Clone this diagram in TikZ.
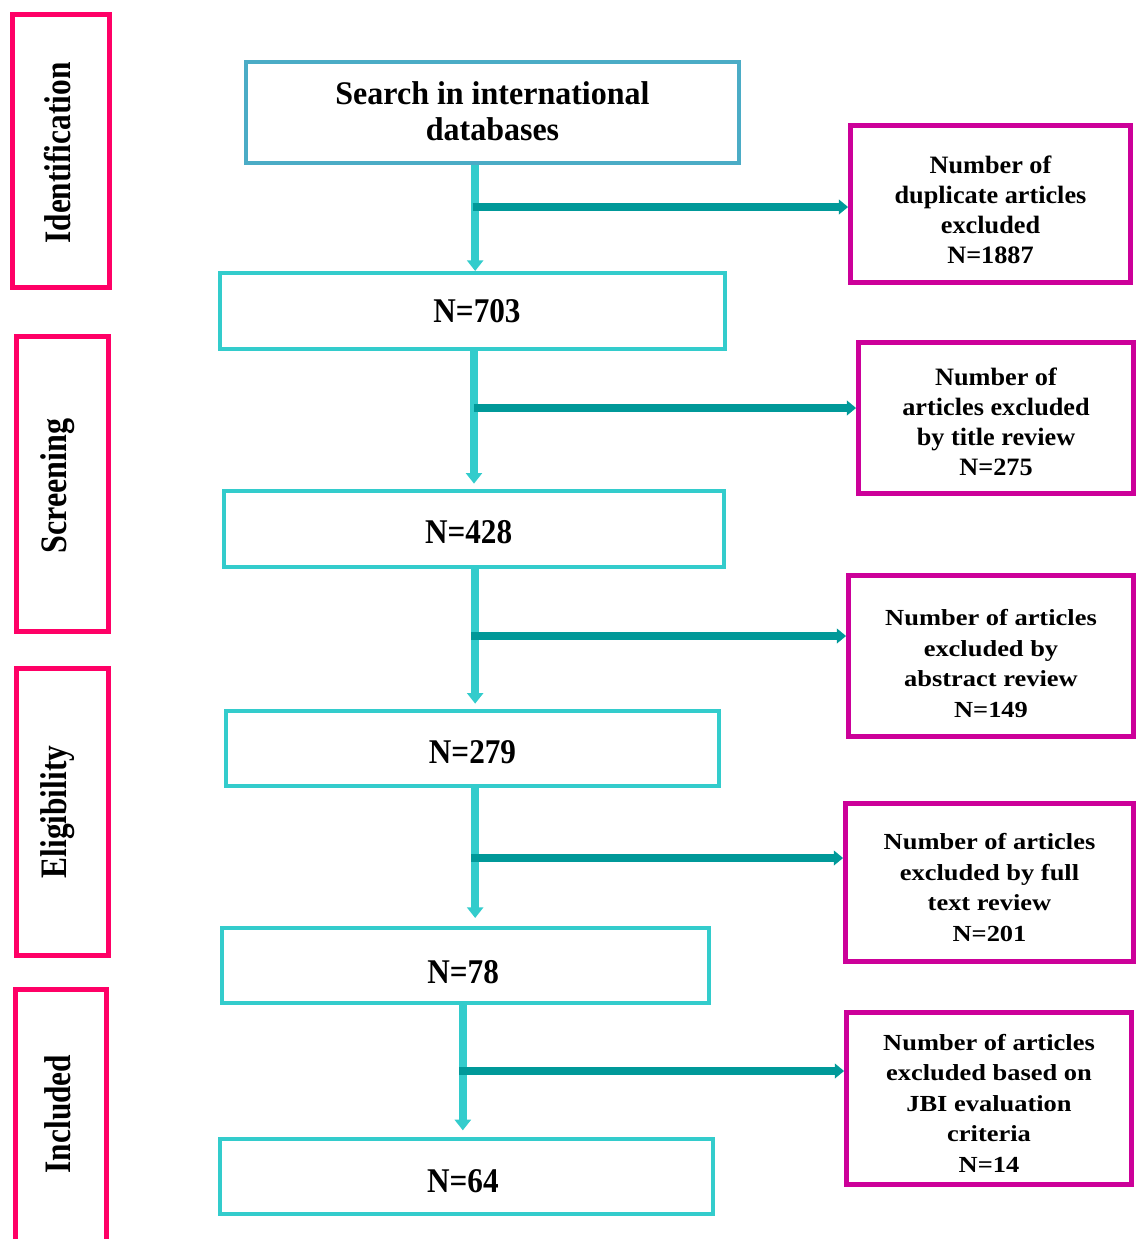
\documentclass[tikz,border=0pt]{standalone}
\usepackage{fontspec}
\setmainfont{Liberation Serif}
\usetikzlibrary{arrows.meta}
\definecolor{topblue}{HTML}{4BACC6}
\definecolor{cyanbox}{HTML}{33CCCC}
\definecolor{tealarrow}{HTML}{009999}
\definecolor{magbox}{HTML}{CC0099}
\definecolor{pinkbox}{HTML}{FF0066}
\newcommand\sx[3][5pt]{\raisebox{-#1}[\height][\depth]{\scalebox{#2}[1]{\begin{tabular}{@{}c@{}}#3\end{tabular}}}}
\begin{document}
\begin{tikzpicture}[x=0.75pt,y=-0.75pt,
  flowbox/.style={draw=cyanbox,line width=3pt,inner sep=0pt,font=\bfseries\fontsize{26}{30}\selectfont},
  exclbox/.style={draw=magbox,line width=3.6pt,inner sep=0pt},
  exclA/.style={font=\bfseries\fontsize{18.75}{22.5}\selectfont},
  exclB/.style={font=\bfseries\fontsize{17.25}{22.9}\selectfont},
  stagebox/.style={draw=pinkbox,line width=3.8pt,inner sep=0pt},
  stagelabel/.style={rotate=90,inner sep=0pt,font=\bfseries\fontsize{28}{30}\selectfont},
  varrow/.style={draw=cyanbox,line width=6pt,-{Triangle[width=12pt,length=8pt]}},
  harrow/.style={draw=tealarrow,line width=6pt,-{Triangle[width=11pt,length=7pt]}}
]
\useasboundingbox (0,0) rectangle (1137,1239);
\clip (0,0) rectangle (1137,1239);

% stage boxes
\node[stagebox,minimum width=72.75pt,minimum height=204.75pt] (s1) at (61,151) {};
\node[stagebox,minimum width=69pt,minimum height=221.25pt] (s2) at (62.5,484) {};
\node[stagebox,minimum width=69pt,minimum height=215.25pt] (s3) at (62.5,812) {};
\node[stagebox,minimum width=68.25pt,minimum height=202.9pt] (s4) at (61,1124.75) {};
\node[stagelabel] (l1) at (58,153) {\scalebox{0.84}[1]{Identification}};
\node[stagelabel] (l2) at (58,486) {\scalebox{0.86}[1]{Screening}};
\node[stagelabel] (l3) at (58,812) {\scalebox{0.84}[1]{Eligibility}};
\node[stagelabel] (l4) at (58,1114) {\scalebox{0.84}[1]{Included}};

% main flow
\node[flowbox,draw=topblue,minimum width=369.75pt,minimum height=75.75pt,
      font=\bfseries\fontsize{24.75}{27}\selectfont] (top) at (492.5,112.5)
      {\sx[2pt]{0.97}{Search in international\\databases}};
\node[flowbox,minimum width=378.75pt,minimum height=57pt] (n703) at (472.5,311) {\sx[2.5pt]{0.9}{\hspace*{7.5pt}N=703}};
\node[flowbox,minimum width=375pt,minimum height=57pt] (n428) at (474,529) {\sx[4.5pt]{0.9}{N=428\hspace*{9pt}}};
\node[flowbox,minimum width=369.75pt,minimum height=56.25pt] (n279) at (472.5,748.5) {\sx[5pt]{0.9}{N=279}};
\node[flowbox,minimum width=365.25pt,minimum height=56.25pt] (n78) at (465.5,965.5) {\sx[7.5pt]{0.9}{N=78\hspace*{4pt}}};
\node[flowbox,minimum width=369.75pt,minimum height=56.25pt] (n64) at (466.5,1176.5) {\sx[6pt]{0.9}{N=64\hspace*{6pt}}};

% exclusion boxes
\node[exclbox,exclA,minimum width=210pt,minimum height=117.75pt] (r1) at (990.5,204)
  {\sx[6pt]{1.05}{Number of\\duplicate articles\\excluded\\N=1887}};
\node[exclbox,exclA,minimum width=206.25pt,minimum height=113.25pt] (r2) at (996,418)
  {\sx[5pt]{1.05}{Number of\\articles excluded\\by title review\\N=275}};
\node[exclbox,exclB,minimum width=213.75pt,minimum height=120.75pt] (r3) at (991,656)
  {\sx[7pt]{1.15}{Number of articles\\excluded by\\abstract review\\N=149}};
\node[exclbox,exclB,minimum width=216pt,minimum height=118.5pt] (r4) at (989.5,882.5)
  {\sx[5pt]{1.15}{Number of articles\\excluded by full\\text review\\N=201}};
\node[exclbox,exclB,minimum width=213.75pt,minimum height=129pt] (r5) at (989,1098.5)
  {\sx[5pt]{1.15}{Number of articles\\excluded based on\\JBI evaluation\\criteria\\N=14}};

% vertical arrows
\draw[varrow] ([xshift=2pt]top.south -| n703.north) -- ([xshift=2pt]n703.north);
\draw[varrow,shorten >=4pt] (n703.south -| n428.north) -- (n428.north);
\draw[varrow,shorten >=4pt] ([xshift=2pt]n428.south -| n279.north) -- ([xshift=2pt]n279.north);
\draw[varrow,shorten >=6pt] ([xshift=2pt]n279.south) -- ([xshift=2pt]n279.south |- n78.north);
\draw[varrow,shorten >=5pt] ([xshift=-2pt]n78.south) -- ([xshift=-2pt]n78.south |- n64.north);

% horizontal arrows
\coordinate (h1) at (472.5,207);
\coordinate (h2) at (474,408);
\coordinate (h3) at (471,636);
\coordinate (h4) at (471,858);
\coordinate (h5) at (459,1071);
\draw[harrow] (h1) -- (h1 -| r1.west);
\draw[harrow] (h2) -- (h2 -| r2.west);
\draw[harrow] (h3) -- (h3 -| r3.west);
\draw[harrow] (h4) -- (h4 -| r4.west);
\draw[harrow] (h5) -- (h5 -| r5.west);
\end{tikzpicture}
\end{document}
